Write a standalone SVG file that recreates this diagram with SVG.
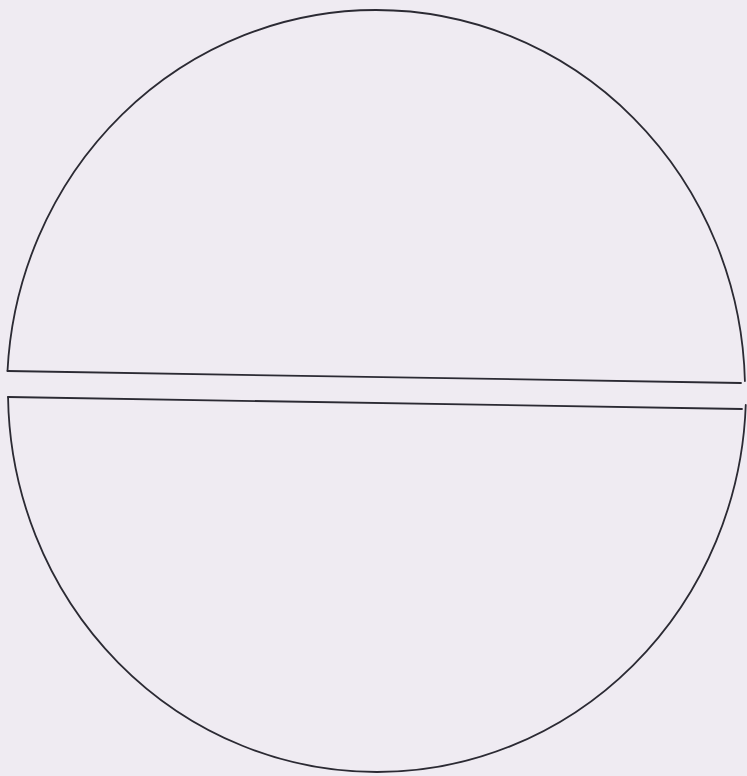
<svg xmlns="http://www.w3.org/2000/svg" width="747" height="776" viewBox="0 0 747 776">
<style>
.s{fill:none;stroke:#2b2a33;stroke-width:1.8;stroke-linecap:round}
</style>
<rect width="747" height="776" fill="#efebf2"/>
<g id="upper-half">
<path class="s" d="M7.5,371 A369,381 0 0 1 376,10 A369,381 0 0 1 744.9,381"/>
<path class="s" d="M7.5,371 L741,383"/>
</g>
<g id="lower-half">
<path class="s" d="M8.05,397 L742,409"/>
<path class="s" d="M8.05,397 A369,381 0 0 0 377,772 A369,381 0 0 0 745.75,405"/>
</g>
</svg>
